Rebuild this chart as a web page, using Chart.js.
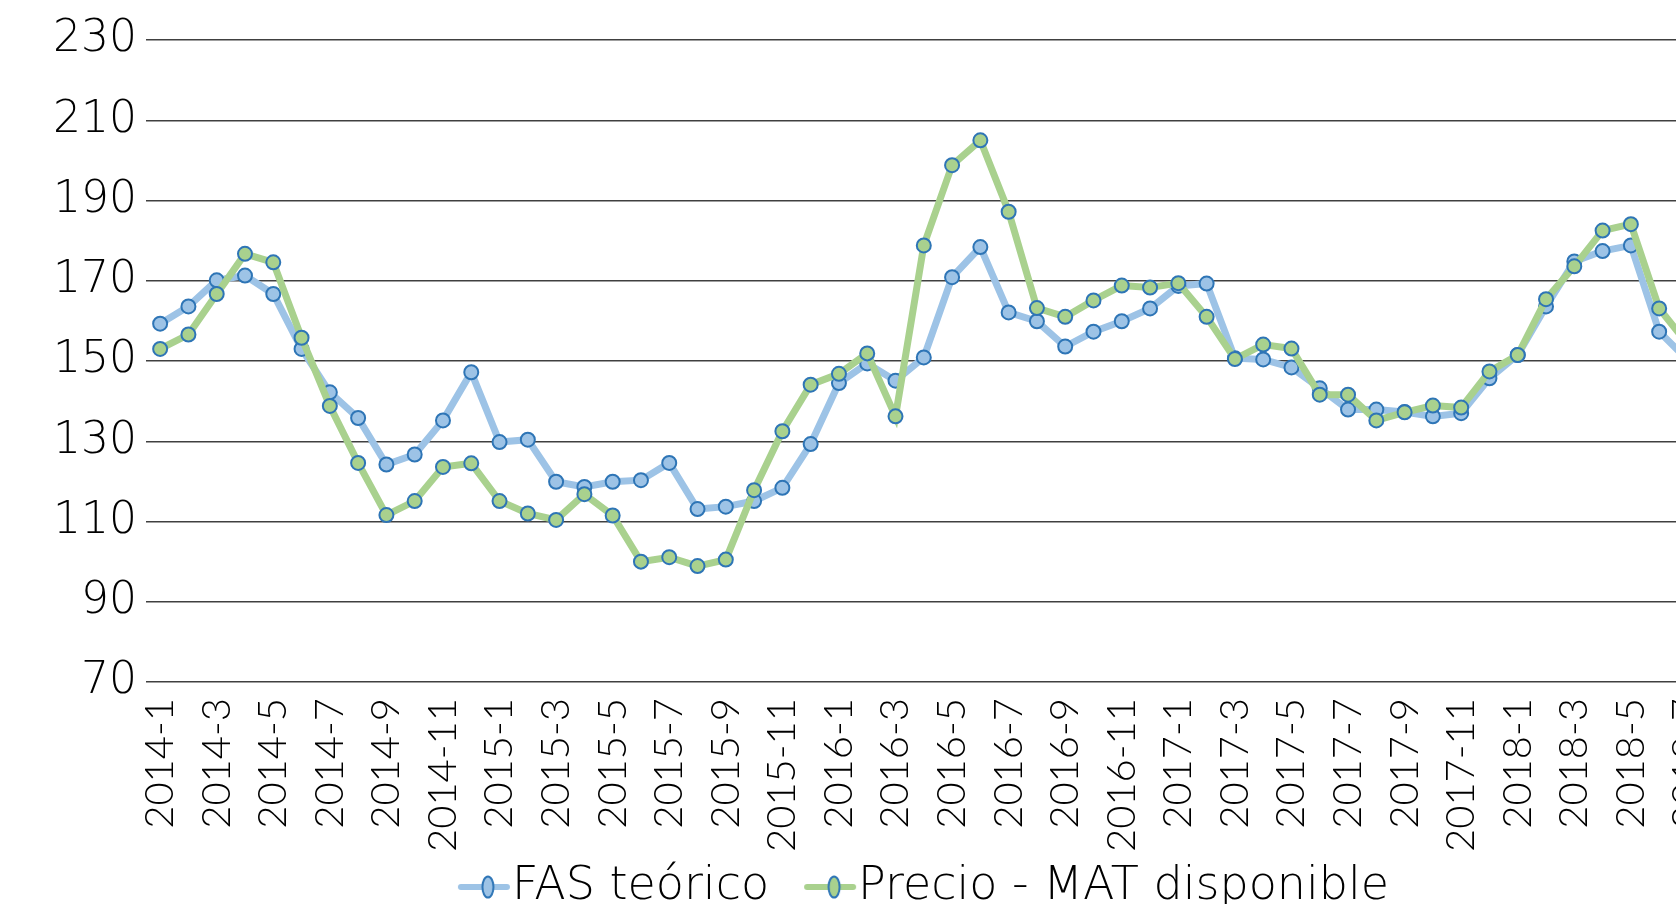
<!DOCTYPE html>
<html>
<head>
<meta charset="utf-8">
<script src="https://cdn.jsdelivr.net/npm/chart.js@4.4.1/dist/chart.umd.min.js"></script>
<style>
  html, body { margin: 0; padding: 0; background: #ffffff; overflow: hidden; width: 1676px; height: 904px; }
  #wrap { position: absolute; left: 0; top: 0; width: 1852px; height: 978px; }
</style>
</head>
<body>
<div id="wrap"><canvas id="c" width="1852" height="978"></canvas></div>
<script>
// Categories (monthly, 2014-1 ... 2018-12; the reference is cropped after 2018-7)
const categories = [
  '2014-1','2014-2','2014-3','2014-4','2014-5','2014-6','2014-7','2014-8','2014-9','2014-10','2014-11','2014-12',
  '2015-1','2015-2','2015-3','2015-4','2015-5','2015-6','2015-7','2015-8','2015-9','2015-10','2015-11','2015-12',
  '2016-1','2016-2','2016-3','2016-4','2016-5','2016-6','2016-7','2016-8','2016-9','2016-10','2016-11','2016-12',
  '2017-1','2017-2','2017-3','2017-4','2017-5','2017-6','2017-7','2017-8','2017-9','2017-10','2017-11','2017-12',
  '2018-1','2018-2','2018-3','2018-4','2018-5','2018-6','2018-7','2018-8','2018-9','2018-10','2018-11','2018-12'
];

const seriesNames = ['FAS teórico', 'Precio - MAT disponible'];

const fasTeorico = [
  159.3, 163.6, 170.1, 171.3, 166.7, 153.0, 142.2, 135.8, 124.2, 126.7, 135.2, 147.2,
  129.8, 130.4, 119.9, 118.6, 119.9, 120.3, 124.6, 113.1, 113.7, 115.1, 118.4, 129.3,
  144.5, 149.4, 145.1, 150.9, 170.9, 178.4, 162.1, 159.9, 153.6, 157.3, 159.9, 163.1,
  168.7, 169.3, 150.7, 150.4, 148.4, 143.2, 137.9, 137.9, 137.3, 136.2, 137.0, 145.7,
  151.5, 163.6, 174.8, 177.4, 178.8, 157.3, 150.3, null, null, null, null, null
];

const precioMat = [
  153.0, 156.6, 166.7, 176.7, 174.6, 155.8, 138.8, 124.6, 111.6, 115.1, 123.6, 124.5,
  115.1, 112.0, 110.4, 116.8, 111.5, 100.0, 101.1, 98.9, 100.5, 117.8, 132.5, 144.1,
  146.8, 151.9, 136.2, 178.8, 198.8, 205.0, 187.2, 163.2, 161.0, 165.1, 168.8, 168.3,
  169.4, 161.0, 150.5, 154.1, 153.1, 141.6, 141.6, 135.2, 137.2, 138.9, 138.4, 147.4,
  151.5, 165.4, 173.6, 182.5, 184.1, 163.1, 154.3, null, null, null, null, null
];

const yTicks = [70, 90, 110, 130, 150, 170, 190, 210, 230];

const BLUE = '#9DC3E6';
const GREEN = '#A9D18E';
const EDGE = '#2E75B6';
const MAIN_FONT = '"DejaVu Sans", sans-serif';
const XLAB_FONT = 'Lato, "DejaVu Sans", sans-serif';
const LEGEND_DY = -58;

function makeIcon(color) {
  const cv = document.createElement('canvas');
  cv.width = 80; cv.height = 26;
  const g = cv.getContext('2d');
  g.strokeStyle = color; g.lineWidth = 6; g.lineCap = 'round';
  g.beginPath(); g.moveTo(25, 13); g.lineTo(71, 13); g.stroke();
  g.beginPath(); g.ellipse(52, 13, 5.5, 10.5, 0, 0, Math.PI * 2);
  g.fillStyle = color; g.fill();
  g.strokeStyle = EDGE; g.lineWidth = 2; g.stroke();
  return cv;
}
const legendIcons = [makeIcon(BLUE), makeIcon(GREEN)];

const legendShift = {
  id: 'legendShift',
  afterLayout(chart) {
    const lg = chart.legend;
    if (lg) { lg.top += LEGEND_DY; lg.bottom += LEGEND_DY; }
  }
};

Chart.defaults.font.family = MAIN_FONT;
Chart.defaults.font.weight = '200';
Chart.defaults.color = '#000000';

new Chart(document.getElementById('c'), {
  type: 'line',
  data: {
    labels: categories,
    datasets: [
      {
        label: seriesNames[0], data: fasTeorico, order: 2,
        borderColor: BLUE, backgroundColor: BLUE, borderWidth: 7,
        pointRadius: 7, pointBorderWidth: 2, pointBorderColor: EDGE, pointBackgroundColor: BLUE,
        tension: 0, spanGaps: false
      },
      {
        label: seriesNames[1], data: precioMat, order: 1,
        borderColor: GREEN, backgroundColor: GREEN, borderWidth: 7,
        pointRadius: 7, pointBorderWidth: 2, pointBorderColor: EDGE, pointBackgroundColor: GREEN,
        tension: 0, spanGaps: false
      }
    ]
  },
  plugins: [legendShift],
  options: {
    responsive: false,
    animation: false,
    layout: { padding: { top: 40, left: 0, right: 0, bottom: 0 } },
    plugins: {
      tooltip: { enabled: false },
      legend: {
        position: 'bottom',
        labels: {
          usePointStyle: true,
          pointStyleWidth: 26,
          padding: 40,
          color: '#000000',
          font: { size: 46, family: MAIN_FONT, weight: '200' },
          sort: (a, b) => a.datasetIndex - b.datasetIndex,
          generateLabels(chart) {
            const items = Chart.defaults.plugins.legend.labels.generateLabels(chart);
            items.forEach(it => { it.pointStyle = legendIcons[it.datasetIndex]; });
            return items;
          }
        }
      }
    },
    scales: {
      x: {
        type: 'category',
        offset: true,
        grid: { display: false, drawTicks: false },
        border: { display: false },
        afterFit(scale) { scale.height = 200; scale.paddingLeft = 0; scale.paddingRight = 0; },
        ticks: {
          autoSkip: false,
          minRotation: 90,
          maxRotation: 90,
          padding: 16,
          color: '#000000',
          font: { size: 40, family: XLAB_FONT, weight: '300' },
          callback(value, index) { return index % 2 === 0 ? categories[index] : ''; }
        }
      },
      y: {
        min: yTicks[0],
        max: yTicks[yTicks.length - 1],
        afterFit(scale) { scale.width = 146; },
        afterBuildTicks(scale) { scale.ticks = yTicks.map(v => ({ value: v })); },
        grid: { color: '#404040', lineWidth: 1.4, drawTicks: false },
        border: { display: false },
        ticks: {
          padding: 9,
          color: '#000000',
          font: { size: 44, family: MAIN_FONT, weight: '200' }
        }
      }
    }
  }
});
</script>
</body>
</html>
